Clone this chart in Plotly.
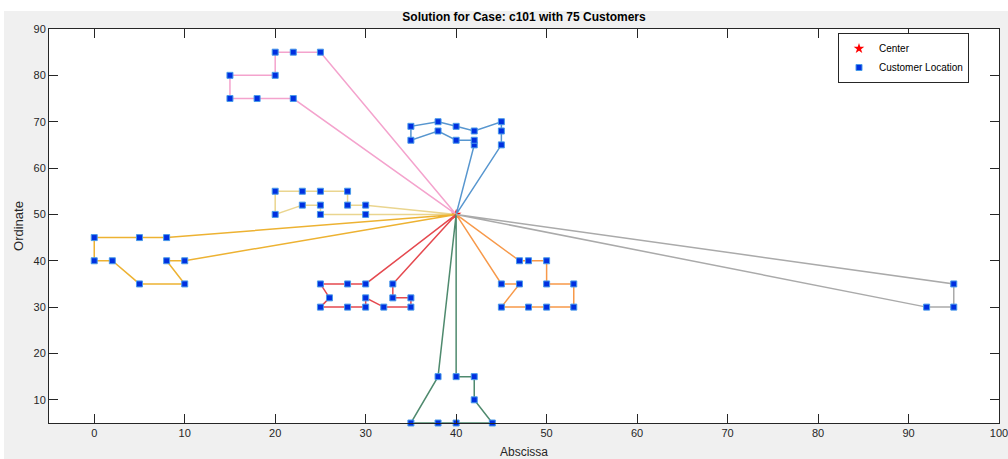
import plotly.graph_objects as go

# Depot / center location
center_x = [40]
center_y = [50]

# Customer visiting order for each vehicle route (depot excluded)
route1_x = [25, 22, 20, 20, 15, 15, 18, 22]
route1_y = [85, 85, 85, 80, 80, 75, 75, 75]

route2_x = [42, 42, 40, 38, 35, 35, 38, 40, 42, 45, 45, 45]
route2_y = [65, 66, 66, 68, 66, 69, 70, 69, 68, 70, 68, 65]

route3_x = [30, 28, 28, 25, 23, 20, 20, 23, 25, 25, 30]
route3_y = [52, 52, 55, 55, 55, 55, 50, 52, 52, 50, 50]

route4_x = [8, 5, 0, 0, 2, 5, 10, 8, 10]
route4_y = [45, 45, 45, 40, 40, 35, 35, 40, 40]

route5_x = [30, 28, 25, 26, 25, 28, 30, 30, 32, 35, 35, 33, 33]
route5_y = [35, 35, 35, 32, 30, 30, 30, 32, 30, 30, 32, 32, 35]

route6_x = [47, 48, 50, 50, 53, 53, 50, 48, 45, 47, 45]
route6_y = [40, 40, 40, 35, 35, 30, 30, 30, 30, 35, 35]

route7_x = [40, 42, 42, 44, 40, 38, 35, 38]
route7_y = [15, 15, 10, 5, 5, 5, 5, 15]

route8_x = [95, 95, 92]
route8_y = [35, 30, 30]

routes = [
    (route1_x, route1_y, "#F4A3CD"),
    (route2_x, route2_y, "#5796CF"),
    (route3_x, route3_y, "#EAD58F"),
    (route4_x, route4_y, "#EDB232"),
    (route5_x, route5_y, "#E5494F"),
    (route6_x, route6_y, "#F7994A"),
    (route7_x, route7_y, "#4F8A6E"),
    (route8_x, route8_y, "#AAAAAA"),
]

x_ticks = [0, 10, 20, 30, 40, 50, 60, 70, 80, 90, 100]
y_ticks = [10, 20, 30, 40, 50, 60, 70, 80, 90]

fig = go.Figure()

# Center marker sits underneath the route lines
fig.add_trace(go.Scatter(
    x=center_x, y=center_y, mode="markers", name="Center",
    marker=dict(symbol="star", size=8, color="#FF0000", line=dict(width=0)),
    cliponaxis=False,
))

# Route polylines: depot -> customers -> depot
for rx, ry, col in routes:
    fig.add_trace(go.Scatter(
        x=center_x + rx + center_x,
        y=center_y + ry + center_y,
        mode="lines",
        line=dict(color=col, width=1.5),
        showlegend=False,
        hoverinfo="skip",
        cliponaxis=False,
    ))

all_x = []
all_y = []
for rx, ry, _ in routes:
    all_x += rx
    all_y += ry

fig.add_trace(go.Scatter(
    x=all_x, y=all_y, mode="markers", name="Customer Location",
    marker=dict(symbol="square", size=6, color="#0030E0",
                line=dict(color="#4A9BEA", width=1)),
    cliponaxis=False,
))

W, H = 1008, 459
ml, mr, mt, mb = 49, 9, 29, 36
pw = W - ml - mr
ph = H - mt - mb

axis_common = dict(
    showgrid=False, zeroline=False, showline=True, linecolor="#262626",
    linewidth=1, mirror="ticks", ticks="inside", ticklen=9, tickwidth=1,
    tickcolor="#262626", ticklabeloverflow="allow",
    tickfont=dict(family="Liberation Sans, Arial", size=11, color="#262626"),
)

fig.update_layout(
    width=W, height=H,
    margin=dict(l=ml, r=mr, t=mt, b=mb, autoexpand=False),
    paper_bgcolor="white", plot_bgcolor="white",
    title=dict(text="<b>Solution for Case: c101 with 75 Customers</b>",
               x=(ml + pw / 2) / W, xanchor="center", y=1 - 17 / H, yanchor="middle",
               font=dict(family="Liberation Sans, Arial", size=12, color="black")),
    xaxis=dict(range=[-5, 100], tickvals=x_ticks, **axis_common,
               title=dict(text="Abscissa", standoff=22,
                          font=dict(family="Liberation Sans, Arial", size=12, color="#262626"))),
    yaxis=dict(range=[5, 90], tickvals=y_ticks, **axis_common,
               title=dict(text="Ordinate", standoff=6,
                          font=dict(family="Liberation Sans, Arial", size=13, color="#262626"))),
    legend=dict(x=(838 - ml) / pw, y=(H - mb - 33) / ph, xanchor="left", yanchor="top",
                bgcolor="white", bordercolor="#262626", borderwidth=1,
                font=dict(family="Liberation Sans, Arial", size=10, color="black"),
                tracegroupgap=0, itemsizing="trace", itemwidth=30),
    shapes=[
        dict(type="rect", xref="paper", yref="paper", layer="below",
             x0=(4 - ml) / pw, x1=(W - ml) / pw, y0=-mb / ph, y1=(H - 11 - mb) / ph,
             fillcolor="#F0F0F0", line=dict(width=0)),
        dict(type="rect", xref="paper", yref="paper", layer="below",
             x0=0, x1=1, y0=0, y1=1, fillcolor="white", line=dict(width=0)),
    ],
    showlegend=True,
)

fig.write_html("out.html")
